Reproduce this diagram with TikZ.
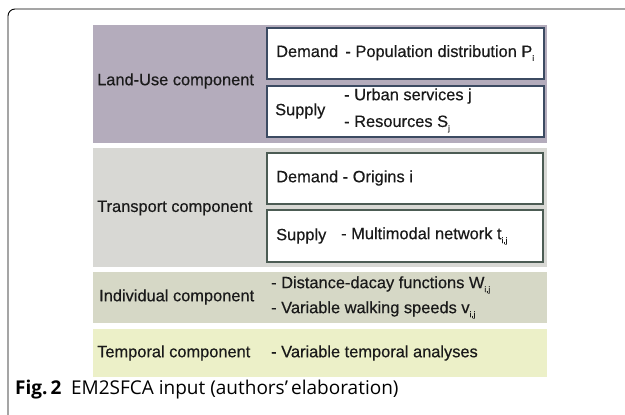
\documentclass[tikz,border=0pt]{standalone}
\usepackage{fontspec}
\setmainfont{Liberation Sans}[BoldFont={Liberation Sans}, BoldFeatures={FakeBold=0.45}]
\newfontfamily\capfont{Open Sans}
\definecolor{landuse}{HTML}{B4ACBC}
\definecolor{transport}{HTML}{D8D8D4}
\definecolor{individual}{HTML}{D6D8C6}
\definecolor{temporal}{HTML}{ECF0C8}
\definecolor{luedge}{HTML}{3C4B62}
\definecolor{tredge}{HTML}{4C5C54}
\definecolor{ink}{HTML}{1A1A1A}
\newcommand\sbs[1]{\raisebox{-0.45ex}{\fontsize{8}{8}\selectfont #1}}
\tikzset{
  band/.style={draw=none, inner sep=0pt},
  inbox/.style={draw, line width=1.3pt, fill=white, inner sep=0pt},
  lbl/.style={anchor=west, inner sep=0pt, text=ink, font=\fontsize{16.4}{19}\selectfont\bfseries},
  frame/.style={line width=0.9pt, draw=black}
}
\begin{document}
\begin{tikzpicture}[x=1pt, y=-1pt]
\useasboundingbox (0,0) rectangle (625,415);
% figure frame
\coordinate (fa) at (8,415);
\coordinate (fb) at (626,9);
\draw[frame, rounded corners=7pt] (fa) |- (fb);

% component bands
\fill[landuse] (93,25) rectangle (547,143);
\fill[transport] (93,148) rectangle (547,267);
\fill[individual] (93,272) rectangle (547,323);
\fill[temporal] (93,329) rectangle (547,377);

% inner boxes
\draw[inbox, draw=luedge] (267,28) rectangle (544,79);
\draw[inbox, draw=luedge] (267,86) rectangle (544,137);
\draw[inbox, draw=tredge] (267,153) rectangle (543,204);
\draw[inbox, draw=tredge] (267,210) rectangle (543,262);

% component names
\node[lbl] (lu) at (97,81) {Land-Use component};
\node[lbl] (tr) at (97,208) {Transport component};
\node[lbl] (ind) at (99,297) {Individual component};
\node[lbl] (tmp) at (97,353) {Temporal component};

% land-use contents
\node[lbl] (ludem) at (276,53) {Demand \,- Population distribution P\sbs{i}};
\node[lbl] (lusup) at (275,111) {Supply};
\node[lbl] (lus1) at (344,96) {- Urban services j};
\node[lbl] (lus2) at (344,124) {- Resources S\sbs{j}};

% transport contents
\node[lbl] (trdem) at (276,178) {Demand - Origins i};
\node[lbl] (trsup) at (276,236) {Supply};
\node[lbl] (trs1) at (341,236) {- Multimodal network t\sbs{i,j}};

% individual contents
\node[lbl] (in1) at (271,285) {- Distance-dacay functions W\sbs{i,j}};
\node[lbl] (in2) at (271,310) {- Variable walking speeds v\sbs{i,j}};

% temporal contents
\node[lbl] (tm1) at (271,353) {- Variable temporal analyses};

% caption
\node[anchor=west, inner sep=0pt, font=\capfont\fontsize{19}{22}\selectfont] (cap) at (15,390)
  {\textbf{Fig.\,2}\hspace{0.5em}EM2SFCA input (authors’\,elaboration)};
\end{tikzpicture}
\end{document}
